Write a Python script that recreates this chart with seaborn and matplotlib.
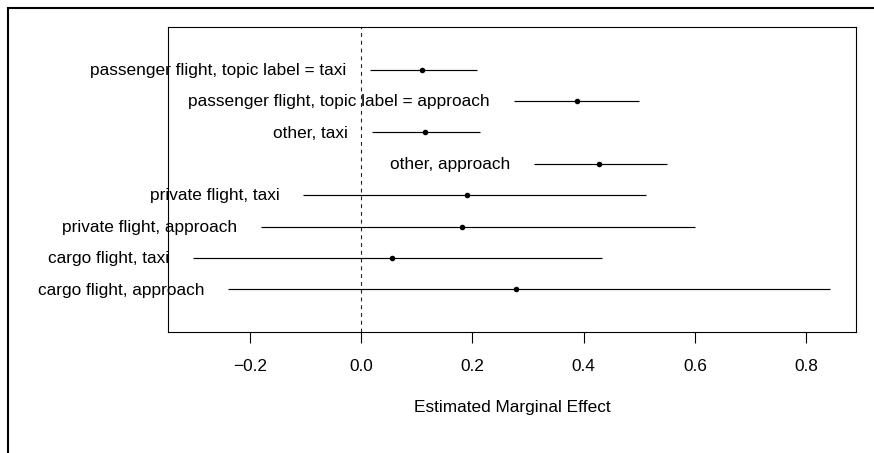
import matplotlib
matplotlib.use('Agg')
import matplotlib.pyplot as plt
import seaborn as sns
import pandas as pd
from matplotlib.patches import Rectangle

labels = [
    "passenger flight, topic label = taxi",
    "passenger flight, topic label = approach",
    "other, taxi",
    "other, approach",
    "private flight, taxi",
    "private flight, approach",
    "cargo flight, taxi",
    "cargo flight, approach",
]
estimates = [0.109, 0.387, 0.114, 0.427, 0.190, 0.181, 0.055, 0.278]
lower = [0.015, 0.274, 0.019, 0.310, -0.104, -0.180, -0.302, -0.239]
upper = [0.208, 0.500, 0.213, 0.549, 0.511, 0.599, 0.432, 0.843]
positions = [8, 7, 6, 5, 4, 3, 2, 1]
xticks = [-0.2, 0.0, 0.2, 0.4, 0.6, 0.8]
xlabel = "Estimated Marginal Effect"

sns.set_theme(style="white")
plt.rcParams['font.family'] = ['Liberation Sans', 'DejaVu Sans']

df = pd.DataFrame({"label": labels, "estimate": estimates,
                   "lower": lower, "upper": upper, "pos": positions})

fig = plt.figure(figsize=(8.74, 4.53), dpi=100)
ax = fig.add_axes([168 / 874, 1 - 332 / 453, (856 - 168) / 874, (332 - 27) / 453])

ax.hlines(df["pos"], df["lower"], df["upper"], color="black", lw=0.85, zorder=2)
sns.scatterplot(data=df, x="estimate", y="pos", ax=ax, color="black", s=16,
                edgecolor="black", linewidth=0, zorder=3, legend=False)
ax.axvline(0, color="#222222", lw=0.8, ls=(0, (3.5, 3.5)), zorder=1)

fs = 12.4
for _, r in df.iterrows():
    ax.annotate(r["label"], xy=(r["lower"], r["pos"]), xytext=(-17, -0.5),
                textcoords="offset points", ha="right", va="center",
                fontsize=fs, color="black", annotation_clip=False)

ax.set_xlim(-0.347, 0.889)
ax.set_ylim(-0.36, 9.36)
ax.set_yticks([])
ax.set_xticks(xticks)
ax.set_xticklabels([f"{t:.1f}".replace("-", "\u2212") for t in xticks])
ax.tick_params(axis="x", direction="out", length=8, width=0.8, pad=11.5,
               labelsize=fs, bottom=True, colors="black")
ax.set_ylabel("")
ax.set_xlabel(xlabel, fontsize=fs, labelpad=19, color="black")
for sp in ax.spines.values():
    sp.set_visible(True)
    sp.set_color("black")
    sp.set_linewidth(0.8)

fig.add_artist(Rectangle((7.5 / 874, -0.5), 2.0, 1.5 - 7.5 / 453,
                         transform=fig.transFigure, fill=False,
                         edgecolor="black", lw=1.5))

fig.savefig("out.png", dpi=100, facecolor="white")
